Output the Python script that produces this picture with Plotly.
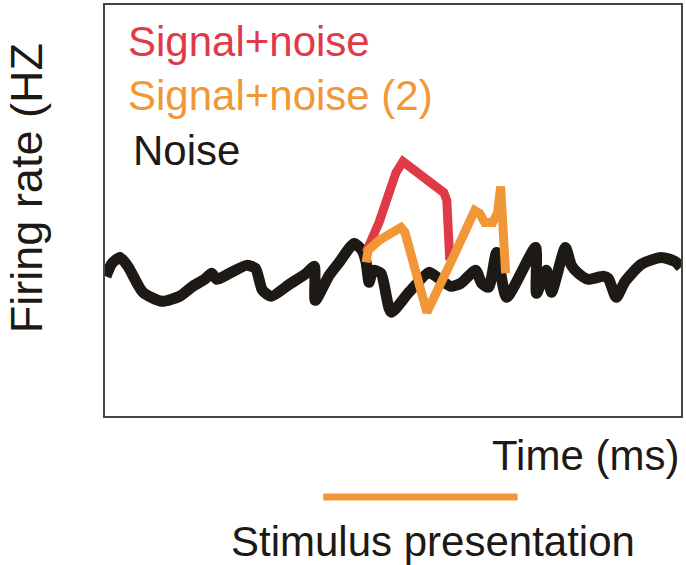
import plotly.graph_objects as go

# Noise trace (time in ms, firing rate in Hz - arbitrary units)
noise_time = [1, 7, 15, 23, 38, 57, 75, 88, 100, 107, 112, 125, 142, 151, 158, 167,
              185, 202, 210, 211, 225, 235, 250, 258, 262, 265, 269, 277, 287, 305,
              325, 332, 347, 357, 372, 378, 385, 393, 403, 432, 433, 443, 448, 462,
              468, 475, 485, 500, 505, 513, 522, 538, 558, 572, 578]
noise_rate = [140, 153, 159, 150, 124, 115, 120, 130, 137, 143, 137, 143, 151, 148, 126, 120,
              132, 143, 150, 116, 141, 154, 173, 166, 154, 134, 146, 143, 104, 124,
              144, 140, 130, 133, 146, 133, 129, 164, 119, 169, 123, 146, 124, 169,
              151, 143, 137, 140, 138, 119, 135, 152, 159, 155, 149]

# Signal + noise
signal_time = [262, 275, 292, 299, 340, 343, 346]
signal_rate = [164, 194, 244, 255, 224, 216, 156]

# Signal + noise (2)
signal2_time = [262, 264, 275, 297, 301, 323, 347, 371, 376, 381, 389, 394, 397, 402]
signal2_rate = [154, 166, 176, 189, 184, 104, 154, 206, 203, 194, 194, 204, 230, 143]

# Stimulus presentation window
stim_start = 219
stim_end = 414

red = "#e03a48"
orange = "#f19737"
black = "#1d1915"
font = "Liberation Sans, Arial, sans-serif"

fig = go.Figure()
fig.add_trace(go.Scatter(x=noise_time, y=noise_rate, mode="lines",
                         line=dict(color=black, width=11, shape="spline", smoothing=0.6)))
fig.add_trace(go.Scatter(x=signal_time, y=signal_rate, mode="lines",
                         line=dict(color=red, width=9)))
fig.add_trace(go.Scatter(x=signal2_time, y=signal2_rate, mode="lines",
                         line=dict(color=orange, width=9)))

# Stimulus bar under the axes
fig.add_shape(type="line", xref="x", yref="paper",
              x0=stim_start, x1=stim_end, y0=-0.197, y1=-0.197,
              line=dict(color=orange, width=7))

# Labels
labels = [
    dict(text="Signal+noise", color=red, x=0.036, y=0.912),
    dict(text="Signal+noise (2)", color=orange, x=0.036, y=0.779),
    dict(text="Noise", color=black, x=0.046, y=0.645),
]
for lab in labels:
    fig.add_annotation(text=lab["text"], x=lab["x"], y=lab["y"], xref="paper", yref="paper",
                       xanchor="left", yanchor="middle", showarrow=False,
                       font=dict(size=42, color=lab["color"], family=font))

fig.add_annotation(text="Time (ms)", x=1.0, y=-0.095, xref="paper", yref="paper",
                   xanchor="right", yanchor="middle", showarrow=False,
                   font=dict(size=42, color=black, family=font))
fig.add_annotation(text="Stimulus presentation", x=0.57, y=-0.305, xref="paper", yref="paper",
                   xanchor="center", yanchor="middle", textangle=0, showarrow=False,
                   font=dict(size=42, color=black, family=font))
fig.add_annotation(text="Firing rate (HZ", x=-0.135, y=0.555, xref="paper", yref="paper",
                   xanchor="center", yanchor="middle", textangle=-90, showarrow=False,
                   font=dict(size=45, color=black, family=font))

fig.update_layout(
    width=686, height=565,
    margin=dict(l=105, r=3, t=4, b=149),
    plot_bgcolor="white", paper_bgcolor="white",
    showlegend=False,
    xaxis=dict(range=[0, 578], showgrid=False, zeroline=False, showticklabels=False,
               ticks="", showline=True, mirror=True, linecolor="#444", linewidth=1.5),
    yaxis=dict(range=[0, 412], showgrid=False, zeroline=False, showticklabels=False,
               ticks="", showline=True, mirror=True, linecolor="#444", linewidth=1.5),
)

# Drop the default page margin so the figure sits at the window's corner
fig.write_html("out.html", config={"displayModeBar": False},
               post_script="document.body.style.margin = '0';")
